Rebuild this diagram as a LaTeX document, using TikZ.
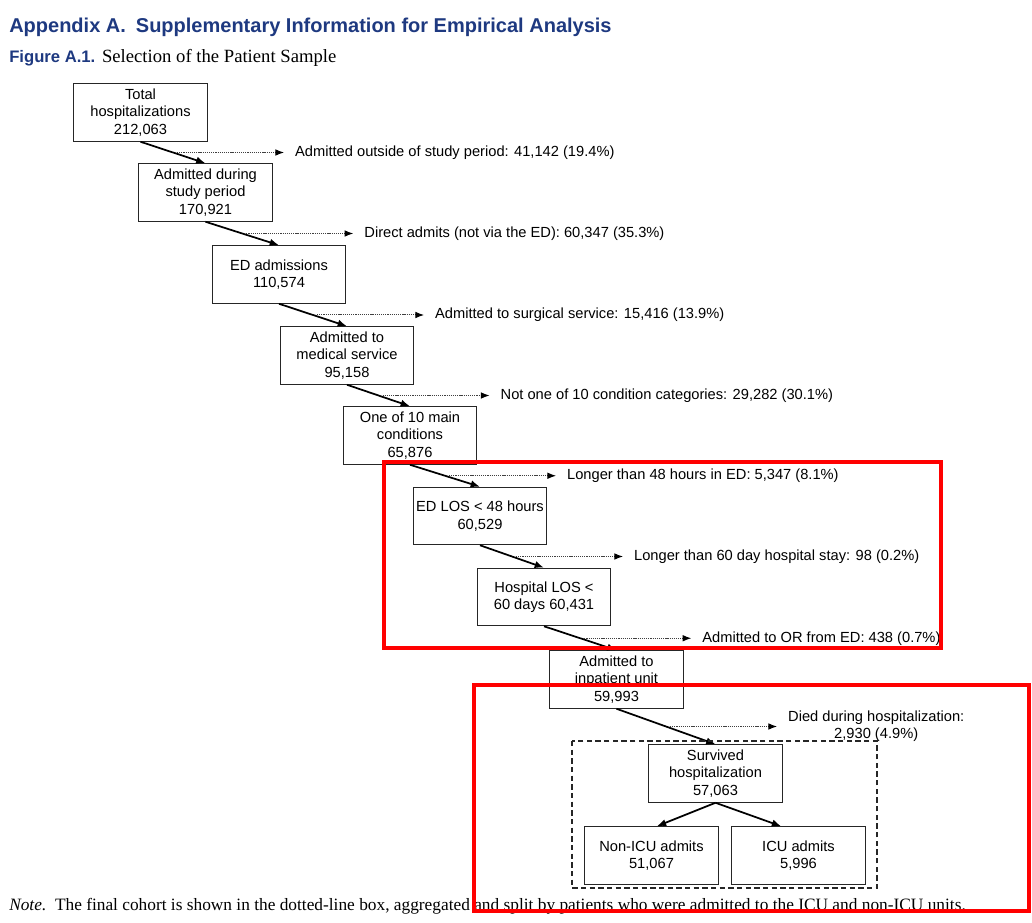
\documentclass[tikz,border=0pt]{standalone}
\usepackage{fontspec}
\setmainfont{Liberation Serif}
\setsansfont{Liberation Sans}
\usetikzlibrary{arrows.meta}
\definecolor{titleblue}{RGB}{30,57,128}
\definecolor{markred}{RGB}{255,0,0}

\begin{document}
\begin{tikzpicture}[x=0.75pt, y=-0.75pt,
  stage/.style={draw=black!85, line width=0.9pt, minimum width=100pt, minimum height=43pt,
    inner sep=1pt, align=center, font=\sffamily\fontsize{11}{13}\selectfont},
  flow/.style={-{Latex[length=7pt,width=5.5pt]}, line width=1.3pt},
  drop/.style={-{Latex[length=6.5pt,width=5pt,black]}, dash pattern=on 0.9pt off 0.7pt, line width=0.75pt, black!75},
  droptext/.style={right, inner xsep=8pt, inner ysep=0pt, align=center, text=black,
    font=\sffamily\fontsize{11}{13}\selectfont},
  markbox/.style={draw=markred, line width=2.3pt}]
\useasboundingbox (0,0) rectangle (1032,923);

% heading
\node[anchor=west, inner sep=0, text=titleblue, font=\sffamily\bfseries\fontsize{15}{18}\selectfont]
  (title) at (9,27) {Appendix A.\enspace Supplementary Information for Empirical Analysis};
\node[anchor=west, inner sep=0] (caption) at (9,58)
  {\textcolor{titleblue}{\sffamily\bfseries\fontsize{12.5}{14}\selectfont Figure A.1.}\enspace{\fontsize{14}{16}\selectfont Selection of the Patient Sample}};

% selection chain
\foreach \n/\x/\y/\t in {
  total/140.5/112.5/{Total\\hospitalizations\\212,063},
  period/205.5/192.5/{Admitted during\\study period\\170,921},
  ed/279/274.5/{ED admissions\\110,574},
  medical/347/355.5/{Admitted to\\medical service\\95,158},
  main/410/435.5/{One of 10 main\\conditions\\65,876},
  edlos/480/516/{ED LOS < 48 hours\\60,529},
  hosplos/544/597/{Hospital LOS <\\60 days 60,431},
  inpatient/616.5/679.5/{Admitted to\\inpatient unit\\59,993},
  survived/715.5/773.5/{Survived\\hospitalization\\57,063}}
  \node[stage] (\n) at (\x,\y) {\t};

\node[stage] (nonicu) at (651.5,855.5) {Non-ICU admits\\51,067};
\node[stage] (icu) at (798.5,855.5) {ICU admits\\5,996};

% exclusions
\foreach \a/\b/\t in {
  total/period/{Admitted outside of study period: 41,142 (19.4\%)},
  period/ed/{Direct admits (not via the ED): 60,347 (35.3\%)},
  ed/medical/{Admitted to surgical service: 15,416 (13.9\%)},
  medical/main/{Not one of 10 condition categories: 29,282 (30.1\%)},
  main/edlos/{Longer than 48 hours in ED: 5,347 (8.1\%)},
  edlos/hosplos/{Longer than 60 day hospital stay: 98 (0.2\%)},
  hosplos/inpatient/{Admitted to OR from ED: 438 (0.7\%)},
  inpatient/survived/{Died during hospitalization:\\2,930 (4.9\%)}}
{
  \draw[flow] (\a.south) -- coordinate (m) (\b.north);
  \draw[drop] (m) ++(4,0) -- ++(107,0) node[droptext] {\t};
}

\draw[flow] (survived.south) -- ([xshift=4pt]nonicu.north);
\draw[flow] (survived.south) -- ([xshift=-13pt]icu.north);

% final cohort
\draw[dash pattern=on 4pt off 2.5pt, line width=0.9pt, black!85] (572,741) rectangle (877,888);

\node[anchor=west, inner sep=0, font=\fontsize{13}{15}\selectfont] (note) at (9,906)
  {\textit{Note.}\ \ The final cohort is shown in the dotted-line box, aggregated and split by patients who were admitted to the ICU and non-ICU units.};

% highlights
\draw[markbox] (384,462) rectangle (941,648);
\draw[markbox] (474,685) rectangle (1029,911);
\end{tikzpicture}
\end{document}
